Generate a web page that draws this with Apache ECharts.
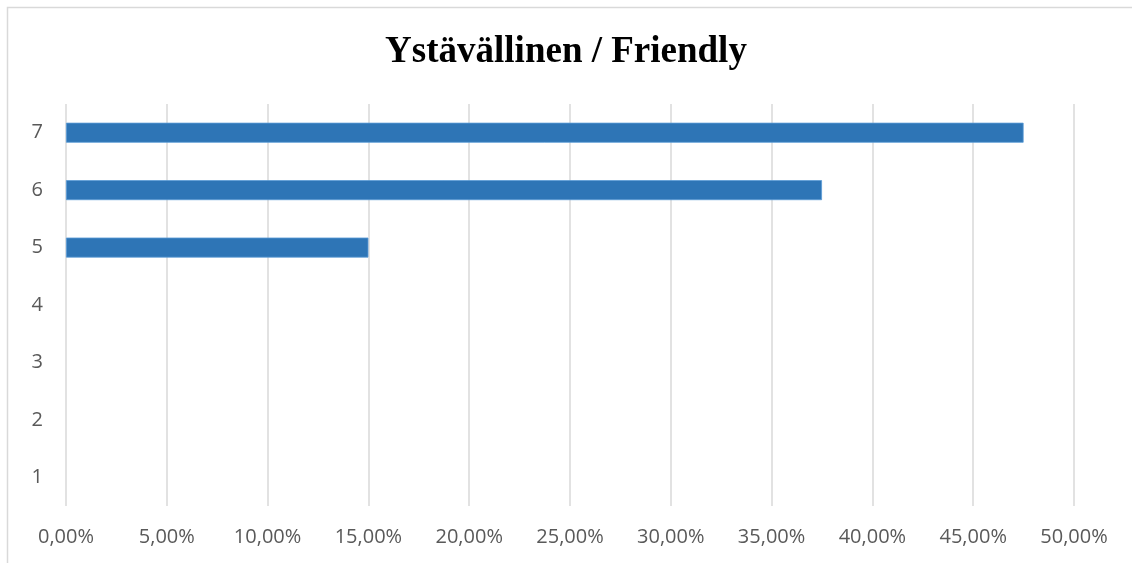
<!DOCTYPE html>
<html>
<head>
<meta charset="utf-8">
<script src="https://cdn.jsdelivr.net/npm/echarts@6/dist/echarts.min.js"></script>
<style>
  html, body { margin: 0; padding: 0; background: #fff; }
  #chart { width: 1132px; height: 563px; }
</style>
</head>
<body>
<div id="chart"></div>
<script>
// Answer scale 1–7, share of respondents (%)
const titleText = 'Ystävällinen / Friendly';
const categories = ['1', '2', '3', '4', '5', '6', '7'];
const shares = [0, 0, 0, 0, 15.0, 37.5, 47.5];
const axisMax = 50;
const axisStep = 5;

const chart = echarts.init(document.getElementById('chart'));

function pct(v) {
  return v.toFixed(2).replace('.', ',') + '%';
}

const labelFont = '"Open Sans", "Noto Sans", sans-serif';

chart.setOption({
  animation: false,
  backgroundColor: '#ffffff',
  title: {
    text: titleText,
    left: 'center',
    top: 29,
    textStyle: {
      fontFamily: '"Liberation Serif", "DejaVu Serif", serif',
      fontWeight: 'bold',
      fontSize: 37,
      color: '#000000'
    }
  },
  graphic: [{
    type: 'rect',
    shape: { x: 7.5, y: 7.5, width: 1140, height: 570 },
    style: { fill: 'none', stroke: '#d9d9d9', lineWidth: 1.5 },
    silent: true
  }],
  grid: { left: 66, right: 58, top: 104, bottom: 57, containLabel: false },
  xAxis: {
    type: 'value',
    min: 0,
    max: axisMax,
    interval: axisStep,
    axisLine: { show: false },
    axisTick: { show: false },
    splitLine: { show: true, lineStyle: { color: '#d9d9d9', width: 1.5 } },
    axisLabel: {
      margin: 21,
      formatter: pct,
      color: '#595959',
      fontSize: 20,
      fontFamily: labelFont
    }
  },
  yAxis: {
    type: 'category',
    data: categories,
    axisLine: { show: false },
    axisTick: { show: false },
    axisLabel: {
      margin: 23,
      color: '#595959',
      fontSize: 20,
      fontFamily: labelFont
    }
  },
  series: [{
    type: 'bar',
    barWidth: 20,
    data: shares.map(v => ({
      value: v,
      itemStyle: { borderWidth: v > 0 ? 0.8 : 0 }
    })),
    itemStyle: { color: '#2e75b6', borderColor: '#5b9bd5' }
  }]
});
</script>
</body>
</html>
